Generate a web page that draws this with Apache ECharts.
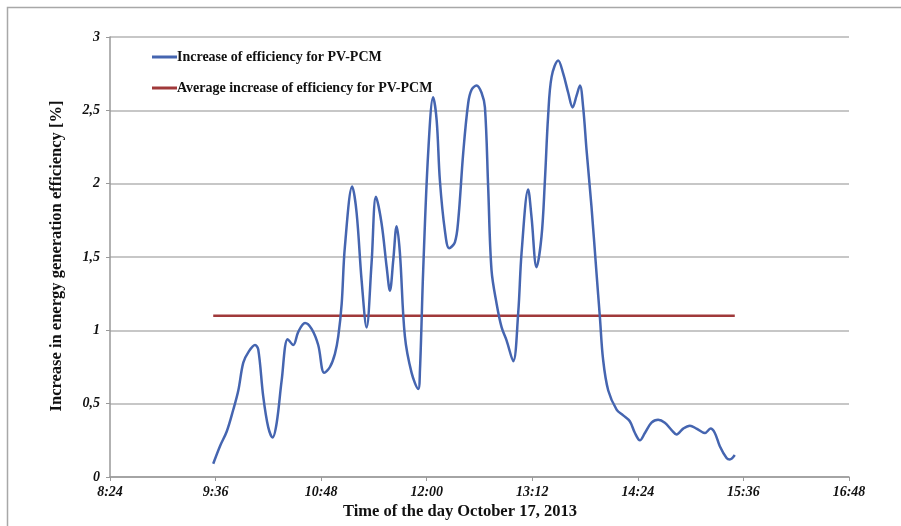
<!DOCTYPE html>
<html>
<head>
<meta charset="utf-8">
<script src="https://cdn.jsdelivr.net/npm/echarts@6/dist/echarts.min.js"></script>
<style>html,body{margin:0;padding:0;background:#fff;}#c{width:901px;height:526px;}</style>
</head>
<body>
<div id="c"></div>
<script>
// time of day in minutes after midnight
var timeMinutes = [574.4,579.0,583.6,588.1,591.5,594.9,598.3,602.9,605.1,608.5,611.9,614.9,617.7,621.1,625.2,629.0,632.4,637.0,641.5,646.0,650.1,654.0,657.4,659.7,662.0,664.2,669.2,672.2,675.6,679.0,682.4,685.4,689.2,692.7,694.9,697.2,699.5,701.7,705.1,709.7,714.2,715.4,717.6,721.0,724.4,726.8,729.0,732.4,735.3,739.2,741.5,744.9,748.3,750.6,754.0,757.4,759.7,761.9,764.2,767.7,771.1,774.5,779.0,782.4,784.7,789.2,791.5,794.9,798.3,800.6,802.8,805.2,809.7,813.1,816.5,819.5,822.2,824.5,826.7,829.0,832.4,835.8,838.1,840.3,843.8,849.5,854.0,858.5,862.0,865.4,868.8,873.3,877.8,882.4,887.0,890.4,894.9,899.5,904.0,909.7,913.6,916.5,919.9,924.5,926.7,930.1];
var efficiency = [0.09,0.21,0.31,0.46,0.59,0.78,0.85,0.90,0.87,0.55,0.34,0.27,0.37,0.66,0.94,0.90,0.99,1.05,1.01,0.90,0.71,0.75,0.84,0.96,1.18,1.57,1.98,1.80,1.34,1.02,1.46,1.91,1.73,1.43,1.27,1.48,1.71,1.53,0.96,0.71,0.60,0.73,1.41,2.21,2.59,2.43,2.02,1.68,1.56,1.60,1.75,2.21,2.55,2.64,2.67,2.62,2.52,1.98,1.41,1.18,1.02,0.93,0.79,1.12,1.53,1.96,1.77,1.43,1.64,2.02,2.46,2.73,2.84,2.75,2.62,2.52,2.60,2.67,2.52,2.23,1.84,1.39,1.09,0.80,0.59,0.46,0.42,0.38,0.30,0.25,0.30,0.37,0.39,0.37,0.32,0.29,0.33,0.35,0.33,0.30,0.33,0.30,0.21,0.13,0.12,0.15];
var avgTimes = [574.4, 930.1];
var avgValues = [1.1, 1.1];
var xTickLabels = ['8:24','9:36','10:48','12:00','13:12','14:24','15:36','16:48'];
var yTickLabels = ['0','0,5','1','1,5','2','2,5','3'];
var seriesNames = ['Increase of efficiency for PV-PCM','Average increase of efficiency for PV-PCM'];

var xMin = 504, xMax = 1008, xStep = 72;
var chart = echarts.init(document.getElementById('c'), null, {renderer:'canvas'});
var blueData = timeMinutes.map(function(t,i){return [t, efficiency[i]];});
var redData = avgTimes.map(function(t,i){return [t, avgValues[i]];});
var serif = '"Liberation Serif", "DejaVu Serif", serif';

chart.setOption({
  animation:false,
  backgroundColor:'#fff',
  graphic:[
    {type:'rect', shape:{x:7.5,y:7.5,width:1000,height:1000}, style:{fill:'none',stroke:'#a8a8a8',lineWidth:1.5}, silent:true, z:-1},
    {type:'text', left:343, top:503, style:{text:'Time of the day October 17, 2013', font:'bold 16.5px '+serif, fill:'#111'}},
    {type:'text', x:57, y:256, rotation:Math.PI/2, style:{text:'Increase in energy generation efficiency [%]', font:'bold 16.5px '+serif, fill:'#111', align:'center', verticalAlign:'middle'}}
  ],
  grid:{left:110, right:52, top:37, bottom:49, containLabel:false},
  legend:{
    orient:'vertical', left:147, top:45, itemWidth:25, itemHeight:3, itemGap:17,
    textStyle:{fontFamily:serif, fontWeight:'bold', fontSize:14, color:'#111', padding:[0,0,0,-5]},
    data:[{name:seriesNames[0], icon:'rect'},{name:seriesNames[1], icon:'rect'}]
  },
  xAxis:{
    type:'value', min:xMin, max:xMax, interval:xStep,
    axisLine:{show:true, lineStyle:{color:'#999', width:1.5}},
    axisTick:{show:true, length:4, lineStyle:{color:'#999'}},
    splitLine:{show:false},
    axisLabel:{margin:8, fontFamily:serif, fontStyle:'italic', fontWeight:'bold', fontSize:14, color:'#111',
      formatter:function(v){ var i=Math.round((v-xMin)/xStep); return xTickLabels[i]||''; }}
  },
  yAxis:{
    type:'value', min:0, max:3, interval:0.5,
    axisLine:{show:true, lineStyle:{color:'#999', width:1.5}},
    axisTick:{show:true, length:4, lineStyle:{color:'#999'}},
    splitLine:{show:true, lineStyle:{color:'#b4b4b4', width:1.5}},
    axisLabel:{margin:10, fontFamily:serif, fontStyle:'italic', fontWeight:'bold', fontSize:14, color:'#111',
      formatter:function(v){ var i=Math.round(v/0.5); return yTickLabels[i]||''; }}
  },
  series:[
    {name:seriesNames[0], type:'line', data:blueData, smooth:0.35, showSymbol:false, symbol:'none',
     lineStyle:{color:'#4565b0', width:2.5}, itemStyle:{color:'#4565b0'}, z:3},
    {name:seriesNames[1], type:'line', data:redData, showSymbol:false, symbol:'none',
     lineStyle:{color:'#a0393a', width:2.5}, itemStyle:{color:'#a0393a'}, z:2}
  ]
});
</script>
</body>
</html>
